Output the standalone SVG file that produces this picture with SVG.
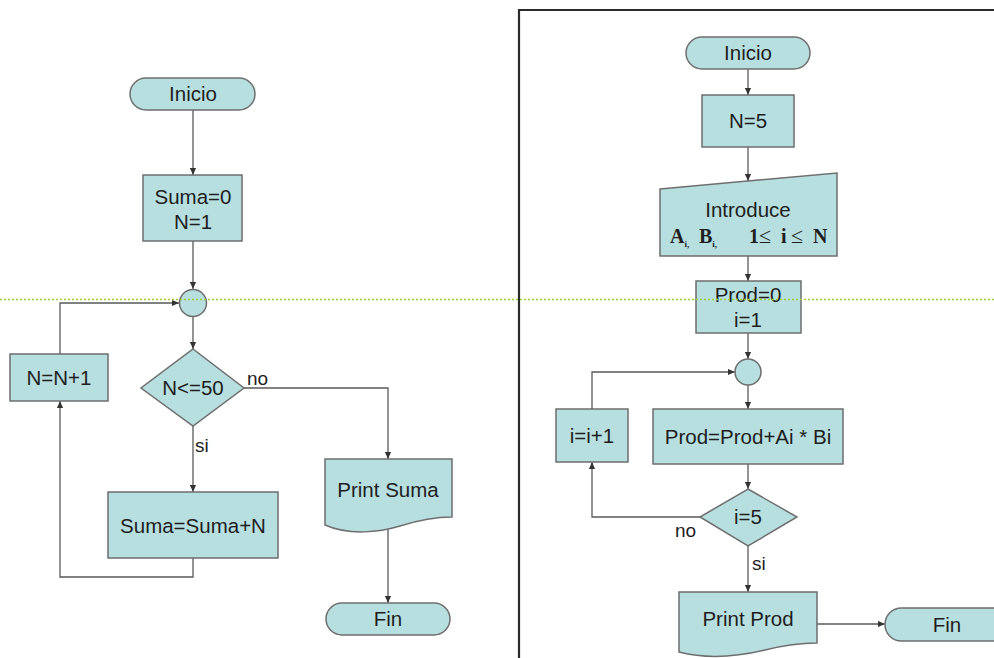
<svg xmlns="http://www.w3.org/2000/svg" width="994" height="658" viewBox="0 0 994 658">
<defs>
<style>
.n{fill:#b8dfe0;stroke:#6e6e6e;stroke-width:1.5}
.t{font-family:"Liberation Sans",Arial,sans-serif;font-size:20.5px;fill:#1e1e1e;text-anchor:middle}
.l{font-family:"Liberation Sans",Arial,sans-serif;font-size:19px;fill:#1e1e1e}
.c{fill:none;stroke:#5a5a5a;stroke-width:1.3;marker-end:url(#a)}
.m{font-family:"Liberation Serif","Times New Roman",serif;font-size:20px;font-weight:bold;fill:#1e1e1e}
</style>
<marker id="a" viewBox="0 0 8 8" refX="8" refY="4" markerWidth="7" markerHeight="7" markerUnits="userSpaceOnUse" orient="auto">
<path d="M0,0.5 L8,4 L0,7.5 z" fill="#333"/>
</marker>
</defs>
<rect width="994" height="658" fill="#ffffff"/>
<path d="M519,658 V10 H994" fill="none" stroke="#2a2a2a" stroke-width="2.2"/>

<g id="connectors">
<path class="c" d="M193,110 V175"/>
<path class="c" d="M193,241 V289"/>
<path class="c" d="M60,354 V303 H179"/>
<path class="c" d="M193,316 V349"/>
<path class="c" d="M244,388 H388 V459"/>
<path class="c" d="M193,426 V492"/>
<path class="c" d="M193,558 V577 H60 V401"/>
<path class="c" d="M388,528 V603"/>
<path class="c" d="M748,69 V95"/>
<path class="c" d="M748,147 V181"/>
<path class="c" d="M748,256 V281"/>
<path class="c" d="M748,333 V359"/>
<path class="c" d="M592,409 V372 H735"/>
<path class="c" d="M748,385 V409"/>
<path class="c" d="M748,464 V489"/>
<path class="c" d="M700,517 H592 V462"/>
<path class="c" d="M748,546 V592"/>
<path class="c" d="M817,624 H885"/>
</g>

<g id="left-inicio">
<rect class="n" x="130" y="78" width="125" height="32" rx="16"/>
<text class="t" x="193" y="101">Inicio</text>
</g>
<g id="left-init">
<rect class="n" x="143" y="175" width="99" height="66"/>
<text class="t" x="193" y="204">Suma=0</text>
<text class="t" x="193" y="229">N=1</text>
</g>
<g id="left-join">
<circle class="n" cx="193" cy="303" r="13.5"/>
</g>
<g id="left-inc">
<rect class="n" x="10" y="354" width="98" height="47"/>
<text class="t" x="59" y="385">N=N+1</text>
</g>
<g id="left-cond">
<polygon class="n" points="193,349 244,388 193,426 141,388"/>
<text class="t" x="193" y="395">N&lt;=50</text>
</g>
<text class="l" x="247" y="385">no</text>
<text class="l" x="195" y="452">si</text>
<g id="left-sum">
<rect class="n" x="108" y="492" width="170" height="66"/>
<text class="t" x="193" y="533">Suma=Suma+N</text>
</g>
<g id="left-print">
<path class="n" d="M325,459 H452 V517 C432,517 416,521 400,526 C380,532 350,536 325,525 Z"/>
<text class="t" x="388" y="497">Print Suma</text>
</g>
<g id="left-fin">
<rect class="n" x="326" y="603" width="124" height="32" rx="16"/>
<text class="t" x="388" y="626">Fin</text>
</g>

<g id="right-inicio">
<rect class="n" x="686" y="37" width="124" height="32" rx="16"/>
<text class="t" x="748" y="60">Inicio</text>
</g>
<g id="right-n">
<rect class="n" x="702" y="95" width="92" height="52"/>
<text class="t" x="748" y="128">N=5</text>
</g>
<g id="right-input">
<polygon class="n" points="660,189 837,173 837,256 660,256"/>
<text class="t" x="748" y="217">Introduce</text>
<text class="m" y="243"><tspan x="670">A</tspan><tspan font-size="9" dy="4">i,</tspan><tspan dy="-4" x="699">B</tspan><tspan font-size="9" dy="4">i,</tspan><tspan dy="-4" x="749">1</tspan><tspan x="759" font-weight="normal" font-size="22">≤</tspan><tspan x="781">i</tspan><tspan x="791" font-weight="normal" font-size="22">≤</tspan><tspan x="813">N</tspan></text>
</g>
<g id="right-init">
<rect class="n" x="696" y="281" width="105" height="52"/>
<text class="t" x="748" y="302">Prod=0</text>
<text class="t" x="748" y="327">i=1</text>
</g>
<g id="right-join">
<circle class="n" cx="748" cy="372" r="13"/>
</g>
<g id="right-inc">
<rect class="n" x="556" y="409" width="72" height="53"/>
<text class="t" x="592" y="443">i=i+1</text>
</g>
<g id="right-prod">
<rect class="n" x="653" y="409" width="190" height="55"/>
<text class="t" x="748" y="444">Prod=Prod+Ai * Bi</text>
</g>
<g id="right-cond">
<polygon class="n" points="748,489 797,517 748,546 700,517"/>
<text class="t" x="748" y="524">i=5</text>
</g>
<text class="l" x="675" y="537">no</text>
<text class="l" x="752" y="570">si</text>
<g id="right-print">
<path class="n" d="M679,592 H817 V643 C800,643 785,645 765,650 C740,656 710,660 679,652 Z"/>
<text class="t" x="748" y="626">Print Prod</text>
</g>
<g id="right-fin">
<rect class="n" x="885" y="608" width="130" height="33" rx="16.5"/>
<text class="t" x="947" y="632">Fin</text>
</g>

<line x1="0" y1="299.5" x2="994" y2="299.5" stroke="#9fcd3c" stroke-width="1.5" stroke-dasharray="2 2"/>
</svg>
